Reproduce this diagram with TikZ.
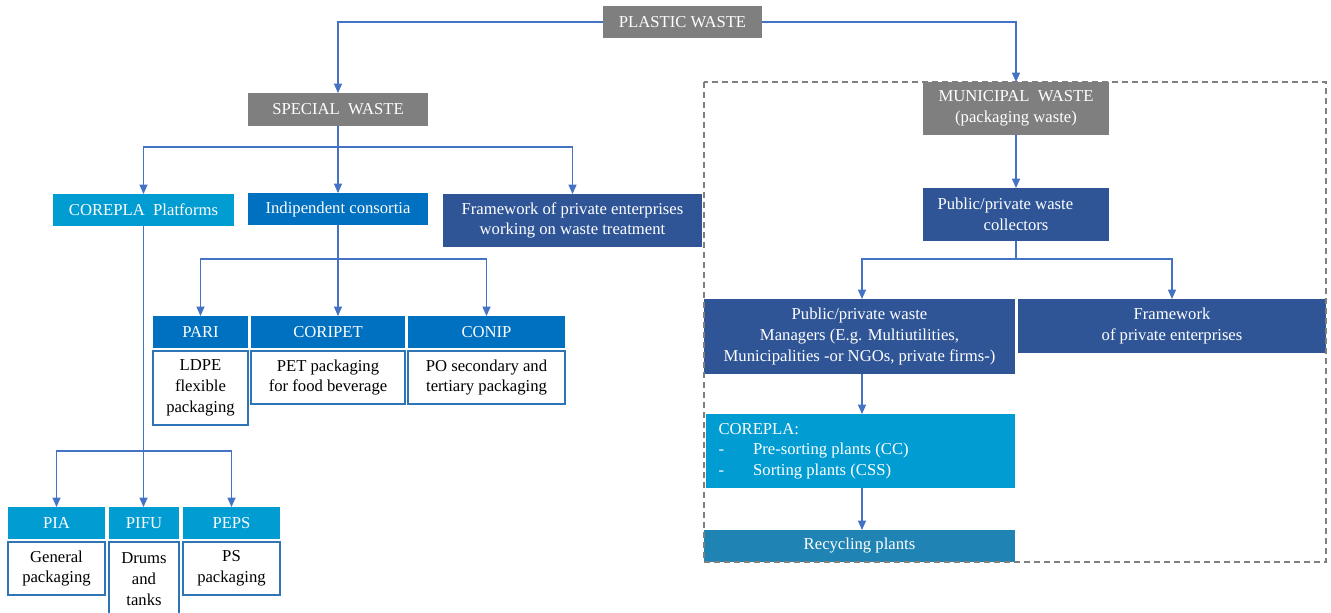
\documentclass[tikz,border=0pt]{standalone}
\usepackage{fontspec}
\setmainfont{Liberation Serif}
\usetikzlibrary{arrows.meta}

\definecolor{wgray}{HTML}{7F7F7F}
\definecolor{lightblue}{HTML}{009CD2}
\definecolor{midblue}{HTML}{0070C0}
\definecolor{darkblue}{HTML}{2F5597}
\definecolor{recblue}{HTML}{1F83B3}
\definecolor{edgeblue}{HTML}{2E75B6}
\definecolor{linkblue}{HTML}{4472C4}

% box placed by its top-left corner, sizes in pixel units
\newcommand\placebox[7]{%
  \node[#2, anchor=north west, minimum width=#5*0.75pt, minimum height=#6*0.75pt]
    (#1) at (#3,#4) {#7};}

\begin{document}
\begin{tikzpicture}[x=0.75pt, y=-0.75pt,
  every node/.style={font=\fontsize{12.5pt}{15.5pt}\selectfont, inner sep=2pt, outer sep=0pt, align=center},
  base/.style={draw=none, text=white},
  graybox/.style={base, fill=wgray},
  lightbox/.style={base, fill=lightblue},
  midbox/.style={base, fill=midblue},
  darkbox/.style={base, fill=darkblue},
  recbox/.style={base, fill=recblue},
  subbox/.style={fill=white, draw=edgeblue, line width=1pt, text=black},
  arr/.style={draw=linkblue, line width=0.8pt, -{Triangle[width=6pt,length=7pt]}},
  frame/.style={draw=wgray, line width=0.9pt, dash pattern=on 4.5pt off 3pt}
]
\useasboundingbox (0,0) rectangle (1331,613);

% top level
\placebox{plastic}{graybox}{603}{6}{159}{32}{PLASTIC WASTE}
\placebox{special}{graybox}{248}{93}{180}{33}{SPECIAL\ \ WASTE}
\placebox{municipal}{graybox}{923}{82}{186}{53}{MUNICIPAL\ \ WASTE\\(packaging waste)}

% special waste branch
\placebox{coreplaP}{lightbox}{53}{194}{181}{32}{COREPLA\ \ Platforms}
\placebox{indep}{midbox}{248}{193}{180}{32}{Indipendent consortia}
\placebox{frameA}{darkbox}{443}{194}{259}{53}{Framework of private enterprises\\working on waste treatment}

% independent consortia
\placebox{pari}{midbox}{153}{316}{95}{32}{PARI}
\placebox{pariD}{subbox}{153}{351}{95}{74}{LDPE\\flexible\\packaging}
\placebox{coripet}{midbox}{251}{316}{154}{32}{CORIPET}
\placebox{coripetD}{subbox}{251}{351}{154}{53}{PET packaging\\for food beverage}
\placebox{conip}{midbox}{408}{316}{157}{32}{CONIP}
\placebox{conipD}{subbox}{408}{351}{157}{53}{PO secondary and\\tertiary packaging}

% COREPLA platforms
\placebox{pia}{lightbox}{8}{507}{97}{32}{PIA}
\placebox{piaD}{subbox}{8}{542}{97}{53}{General\\packaging}
\placebox{pifu}{lightbox}{109}{507}{70}{32}{PIFU}
\placebox{pifuD}{subbox}{109}{542}{70}{74}{Drums\\and\\tanks}
\placebox{peps}{lightbox}{183}{507}{97}{32}{PEPS}
\placebox{pepsD}{subbox}{183}{542}{97}{53}{PS\\packaging}

% municipal waste branch
\placebox{collect}{darkbox}{923}{188}{186}{53}{Public/private waste\hspace*{16pt}\\collectors}
\placebox{managers}{darkbox}{704}{299}{311}{75}{Public/private waste\\Managers (E.g. Multiutilities,\\Municipalities -or NGOs, private firms-)}
\placebox{frameB}{darkbox}{1018}{299}{308}{54}{Framework\\of private enterprises}
\placebox{coreplaB}{lightbox}{706}{414}{309}{74}{\parbox{213pt}{\raggedright COREPLA:\\
  \makebox[26pt][l]{-}Pre-sorting plants (CC)\\
  \makebox[26pt][l]{-}Sorting plants (CSS)}}
\placebox{recyc}{recbox}{704}{530}{311}{32}{Recycling plants}

% vertical line of the managers column
\coordinate (mcol) at (862,0);

% connectors
\draw[arr] (plastic.west) -| (special.north);
\draw[arr] (plastic.east) -| (municipal.north);

\draw[arr] (special.south) -- ++(0,21) -| (coreplaP.north);
\draw[arr] (special.south) -- (indep.north);
\draw[arr] (special.south) -- ++(0,21) -| (frameA.north);

\draw[arr] (indep.south) -- ++(0,34) -| (pari.north);
\draw[arr] (indep.south) -- (indep.south |- coripet.north);
\draw[arr] (indep.south) -- ++(0,34) -| (conip.north);

\draw[arr] (coreplaP.south) -- ++(0,225) -| (pia.north);
\draw[arr] (coreplaP.south) -- (coreplaP.south |- pifu.north);
\draw[arr] (coreplaP.south) -- ++(0,225) -| (peps.north);

\draw[arr] (municipal.south) -- (collect.north);
\draw[arr] (collect.south) -- ++(0,18) -| (mcol |- managers.north);
\draw[arr] (collect.south) -- ++(0,18) -| (frameB.north);
\draw[arr] (mcol |- managers.south) -- (mcol |- coreplaB.north);
\draw[arr] (mcol |- coreplaB.south) -- (mcol |- recyc.north);

% municipal waste management system boundary
\draw[frame] (704,82) rectangle (1326,562);
\end{tikzpicture}
\end{document}
